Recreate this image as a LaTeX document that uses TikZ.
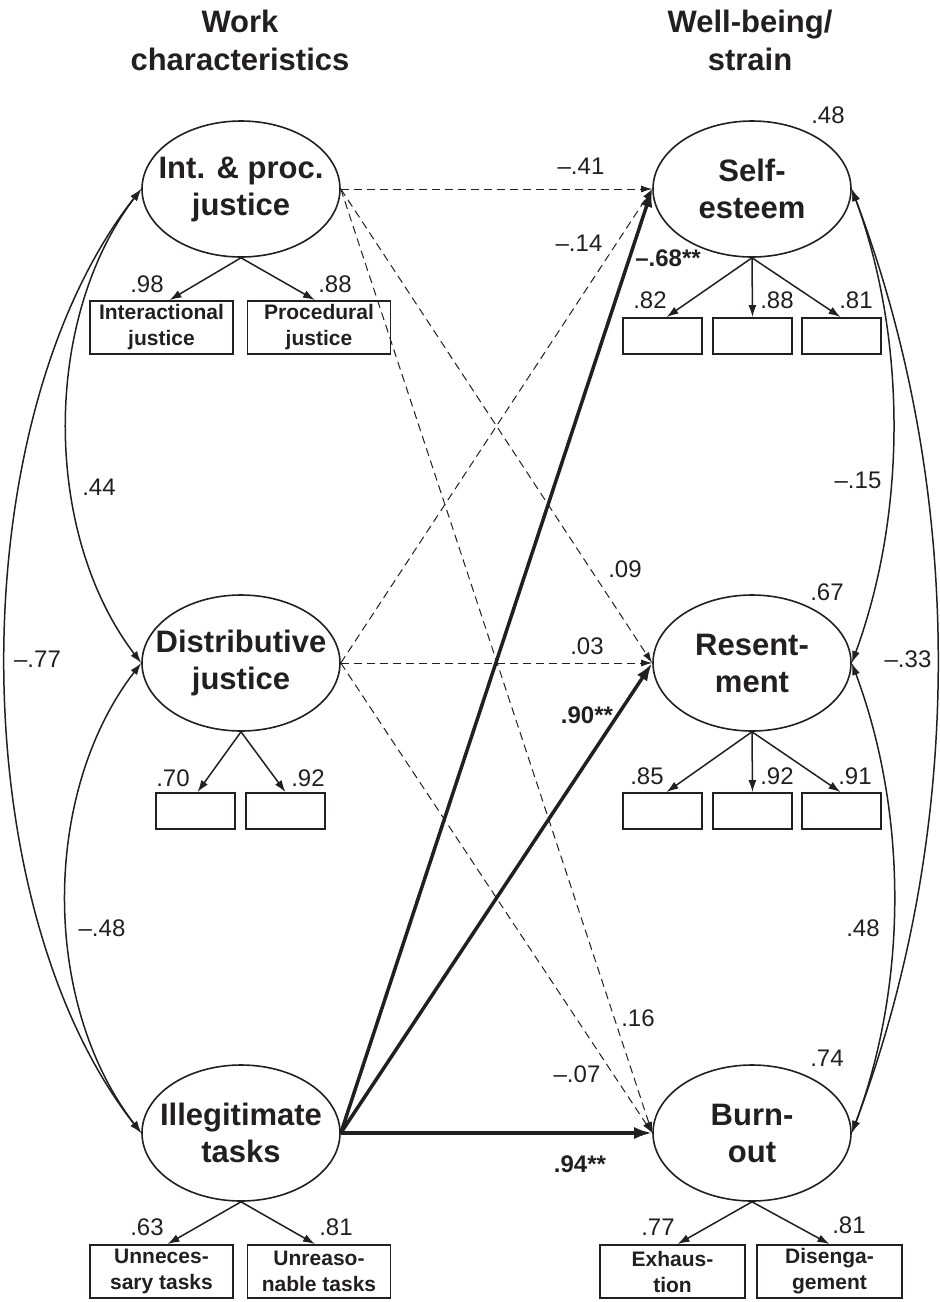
\documentclass[tikz,border=0pt]{standalone}
\usepackage{fontspec}
\setmainfont{Liberation Sans}
\usetikzlibrary{shapes.geometric,arrows.meta,calc}
\definecolor{ink}{HTML}{231F20}
\begin{document}
\begin{tikzpicture}[x=1pt,y=-1pt,color=ink,
  lat/.style={ellipse, draw=ink, line width=1.6pt, minimum width=198pt, minimum height=136pt, inner sep=0pt},
  lattxt/.style={font=\bfseries\fontsize{31}{37}\selectfont, align=center, inner sep=0pt, text=ink},
  obsbig/.style={rectangle, draw=ink, line width=1.8pt, minimum width=143pt, minimum height=53pt, inner sep=0pt, font=\bfseries\fontsize{21}{26}\selectfont, align=center},
  obssmall/.style={rectangle, draw=ink, line width=1.8pt, minimum width=79pt, minimum height=36pt, inner sep=0pt},
  coef/.style={font=\fontsize{24}{28}\selectfont, inner sep=0pt},
  sig/.style={font=\bfseries\fontsize{24}{28}\selectfont, inner sep=0pt},
  head/.style={font=\bfseries\fontsize{31}{38}\selectfont, align=center, inner sep=0pt},
  load/.style={-{Latex[length=12pt,width=8pt]}, line width=1.5pt},
  dpath/.style={dash pattern=on 8pt off 5pt, -{Latex[length=11pt,width=7pt]}, line width=1pt},
  spath/.style={line width=3.5pt, -{Latex[length=18pt,width=12pt]}},
  cov/.style={{Latex[length=12pt,width=8pt]}-{Latex[length=12pt,width=8pt]}, line width=1.5pt}
]
\useasboundingbox (0,0) rectangle (940,1302);

% headers
\node[head] (hl) at (240,40) {Work\\characteristics};
\node[head] (hr) at (750,40) {Well-being/\\strain};

% latent variables
\node[lat, label={[lattxt]center:{Int. \& proc.\\justice}}] (int) at (241,189) {};
\node[lat, label={[lattxt]center:{Distributive\\justice}}] (dist) at (241,663) {};
\node[lat, label={[lattxt]center:{Illegitimate\\tasks}}] (ill) at (241,1133) {};
\node[lat, label={[lattxt]center:{Self-\\esteem}}] (self) at (752,189) {};
\node[lat, label={[lattxt]center:{Resent-\\ment}}] (res) at (752,663) {};
\node[lat, label={[lattxt]center:{Burn-\\out}}] (burn) at (752,1133) {};

% indicators
\node[obsbig] (b1) at (161.5,327.5) {Interactional\\justice};
\node[obsbig] (b2) at (319,327.5) {Procedural\\justice};
\node[obssmall] (s1) at (662.5,336) {};
\node[obssmall] (s2) at (752.5,336) {};
\node[obssmall] (s3) at (841.5,336) {};
\node[obssmall] (d1) at (195.5,811) {};
\node[obssmall] (d2) at (285.5,811) {};
\node[obssmall] (r1) at (662.5,811) {};
\node[obssmall] (r2) at (752.5,811) {};
\node[obssmall] (r3) at (841.5,811) {};
\node[obsbig] (u1) at (161.5,1271.5) {Unneces-\\sary tasks};
\node[obsbig] (u2) at (319,1271.5) {Unreaso-\\nable tasks};
\node[obsbig, minimum width=145pt] (e1) at (672.5,1271.5) {Exhaus-\\tion};
\node[obsbig, minimum width=145pt] (e2) at (829.5,1271.5) {Disenga-\\gement};

% loadings
\draw[load] (int.south) -- ($(b1.north)+(8,0)$);
\draw[load] (int.south) -- ($(b2.north)+(-4,0)$);
\draw[load] (self.south) -- ($(s1.north)+(4,0)$);
\draw[load] (self.south) -- (s2.north);
\draw[load] (self.south) -- ($(s3.north)+(-1,0)$);
\draw[load] (dist.south) -- ($(d1.north)+(2,0)$);
\draw[load] (dist.south) -- (d2.north);
\draw[load] (res.south) -- ($(r1.north)+(4,0)$);
\draw[load] (res.south) -- (r2.north);
\draw[load] (res.south) -- ($(r3.north)+(-1,0)$);
\draw[load] (ill.south) -- ($(u1.north)+(6,0)$);
\draw[load] (ill.south) -- ($(u2.north)+(-4,0)$);
\draw[load] (burn.south) -- ($(e1.north)+(5,0)$);
\draw[load] (burn.south) -- (e2.north);

% structural paths
\draw[dpath] (int.east) -- (self.west);
\draw[dpath] (int.east) -- (res.west);
\draw[dpath] (int.east) -- (burn.west);
\draw[dpath] (dist.east) -- (self.west);
\draw[dpath] (dist.east) -- (res.west);
\draw[dpath] (dist.east) -- (burn.west);
\draw[spath] (ill.east) -- (self.west);
\draw[spath] (ill.east) -- (res.west);
\draw[spath] (ill.east) -- (burn.west);

% covariances
\draw[cov] (int.west) .. controls +(-181,230) and +(-181,-230) .. (ill.west);
\draw[cov] (int.west) .. controls +(-99,130) and +(-99,-130) .. (dist.west);
\draw[cov] (dist.west) .. controls +(-100,130) and +(-100,-130) .. (ill.west);
\draw[cov] (self.east) .. controls +(55,150) and +(55,-150) .. (res.east);
\draw[cov] (res.east) .. controls +(56,150) and +(56,-150) .. (burn.east);
\draw[cov] (self.east) .. controls +(114,303) and +(114,-303) .. (burn.east);

% coefficients
\node[coef] (l1) at (147,284) {.98};
\node[coef] (l2) at (335,284) {.88};
\node[coef] (l3) at (650,300) {.82};
\node[coef] (l4) at (777,300) {.88};
\node[coef] (l5) at (856,300) {.81};
\node[coef] (l6) at (828,115) {.48};
\node[coef] (l7) at (581,166) {–.41};
\node[coef] (l8) at (579,243) {–.14};
\node[sig] (l9) at (668,258) {–.68**};
\node[coef] (l10) at (173,778) {.70};
\node[coef] (l11) at (308,778) {.92};
\node[coef] (l12) at (37.5,659) {–.77};
\node[coef] (l13) at (587,646) {.03};
\node[sig] (l14) at (587,715) {.90**};
\node[coef] (l15) at (827,592) {.67};
\node[coef] (l16) at (908,659) {–.33};
\node[coef] (l17) at (647,776) {.85};
\node[coef] (l18) at (777,776) {.92};
\node[coef] (l19) at (855,776) {.91};
\node[coef] (l20) at (147,1227) {.63};
\node[coef] (l21) at (336,1227) {.81};
\node[coef] (l22) at (638,1018) {.16};
\node[coef] (l23) at (577,1074) {–.07};
\node[coef] (l24) at (827,1058) {.74};
\node[sig] (l25) at (580,1164) {.94**};
\node[coef] (l26) at (658,1227) {.77};
\node[coef] (l27) at (849,1225) {.81};
\node[coef] (l28) at (99,487) {.44};
\node[coef] (l29) at (102,928) {–.48};
\node[coef] (l30) at (858,480) {–.15};
\node[coef] (l31) at (863,928) {.48};
\node[coef] (l32) at (625,569) {.09};
\end{tikzpicture}
\end{document}
